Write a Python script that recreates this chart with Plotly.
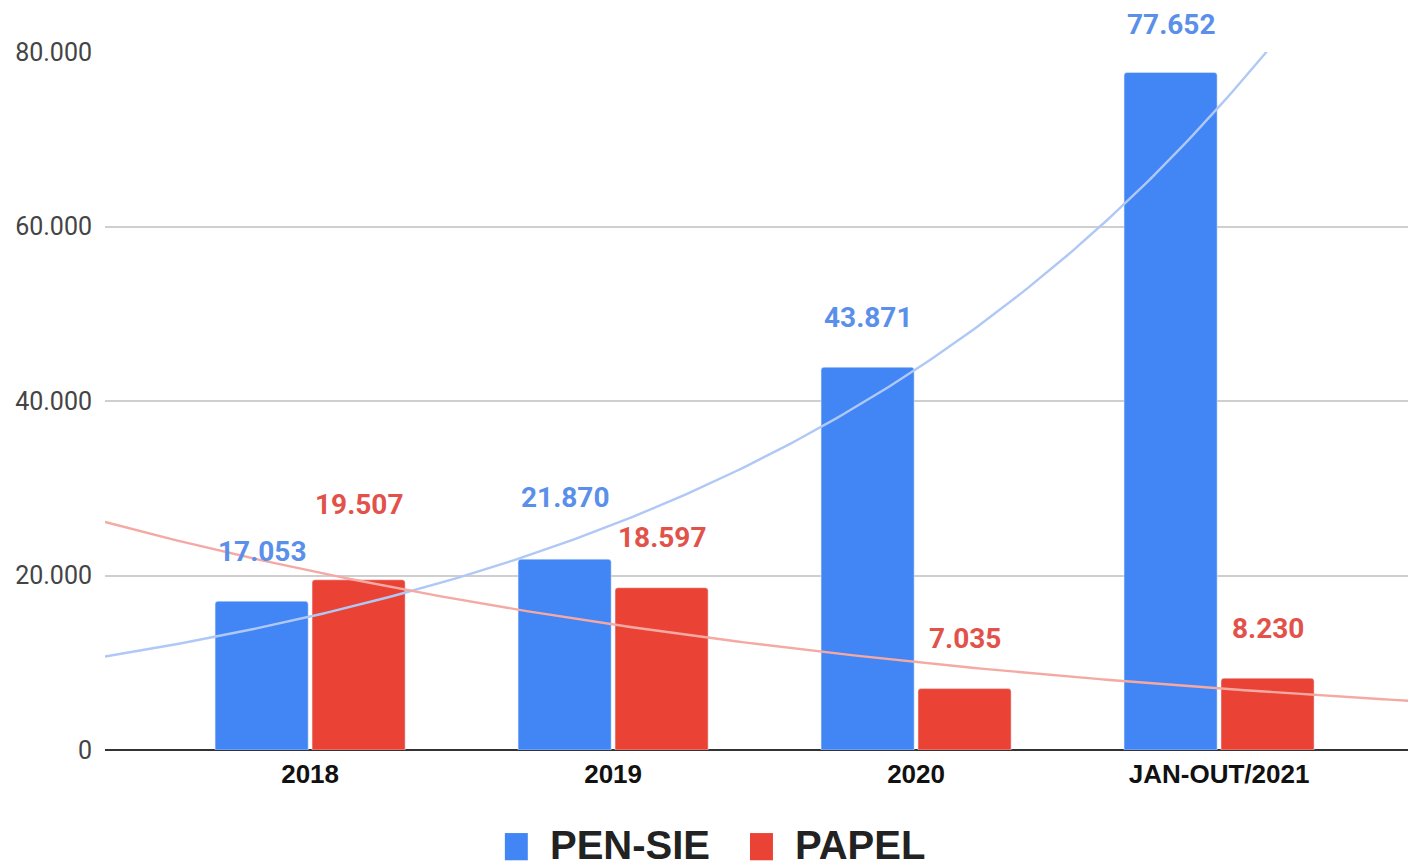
import numpy as np
import plotly.graph_objects as go

categories = ["2018", "2019", "2020", "JAN-OUT/2021"]
pen_sie = [17053, 21870, 43871, 77652]
papel = [19507, 18597, 7035, 8230]
series_names = ["PEN-SIE", "PAPEL"]

BLUE = "#4285F4"
RED = "#EA4335"
BLUE_LBL = "#5A8FEA"
RED_LBL = "#E2524A"
BLUE_TREND = "#AFC8F6"
RED_TREND = "#F4A9A3"

x = np.arange(len(categories))
BARGAP = 0.36
slot = (1 - BARGAP) / 2

fig = go.Figure()
fig.add_trace(go.Bar(x=x, y=pen_sie, name=series_names[0], marker=dict(color=BLUE, cornerradius=3),
                     showlegend=False, hoverinfo="y"))
fig.add_trace(go.Bar(x=x, y=papel, name=series_names[1], marker=dict(color=RED, cornerradius=3),
                     showlegend=False, hoverinfo="y"))

# exponential trendlines fitted from data
xr = [-0.677, 3.65]
xs = np.linspace(xr[0], xr[1], 200)
for vals, col in [(pen_sie, BLUE_TREND), (papel, RED_TREND)]:
    b, a = np.polyfit(x, np.log(vals), 1)
    fig.add_trace(go.Scatter(x=xs, y=np.exp(a + b * xs), mode="lines",
                             line=dict(color=col, width=2.4), showlegend=False, hoverinfo="skip"))

def fmt(v):
    return f"{v:,}".replace(",", ".")

shift_blue = [50, 62, 50, 48]
shift_red = [75, 50, 50, 50]
for i in range(len(categories)):
    fig.add_annotation(x=x[i] - slot / 2, y=pen_sie[i], text=fmt(pen_sie[i]), showarrow=False,
                       yshift=shift_blue[i], font=dict(family="Roboto", size=28, color=BLUE_LBL, weight="bold"))
    fig.add_annotation(x=x[i] + slot / 2, y=papel[i], text=fmt(papel[i]), showarrow=False,
                       yshift=shift_red[i], font=dict(family="Roboto", size=28, color=RED_LBL, weight="bold"))

# legend drawn manually (large symbols)
leg = [(0.305, series_names[0], BLUE), (0.492, series_names[1], RED)]
for x0, name, col in leg:
    fig.add_shape(type="rect", xref="paper", yref="paper", x0=x0, x1=x0 + 0.0175,
                  y0=-0.158, y1=-0.119, fillcolor=col, line=dict(width=0))
    fig.add_annotation(xref="paper", yref="paper", x=x0 + 0.033, y=-0.136, xanchor="left", yanchor="middle",
                       text=name, showarrow=False,
                       font=dict(family="Liberation Sans", size=40, color="#222", weight="bold"))

# page body has an 8px margin; size the figure so it fills the 1416x866 window
fig.update_layout(
    width=1408, height=858,
    margin=dict(l=97, r=0, t=44, b=116),
    plot_bgcolor="white", paper_bgcolor="white",
    barmode="group", bargap=BARGAP, bargroupgap=0.04,
    separators=",.",
    showlegend=False,
)
fig.update_xaxes(range=xr, tickmode="array", tickvals=x, ticktext=categories,
                 tickfont=dict(family="Liberation Sans", size=26, color="#111", weight="bold"),
                 showgrid=False, zeroline=False, showline=False, ticks="", ticklabelstandoff=6)
fig.update_yaxes(range=[0, 80000], tickvals=[0, 20000, 40000, 60000, 80000], tickformat=",d",
                 tickfont=dict(family="Roboto", size=25, color="#444"),
                 showgrid=True, gridcolor="#cfcfcf", gridwidth=1.5,
                 zeroline=True, zerolinecolor="#333", zerolinewidth=2, ticklabelstandoff=12)

fig.write_html("out.html")
